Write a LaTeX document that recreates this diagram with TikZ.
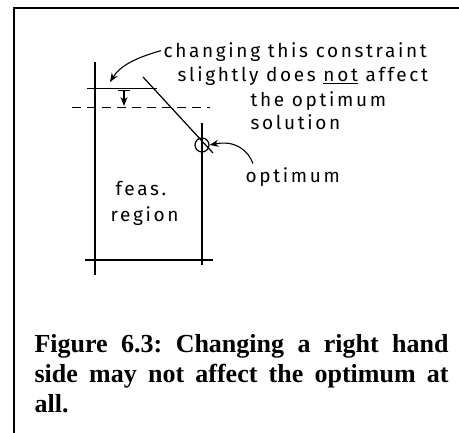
\documentclass[tikz,border=0pt]{standalone}
\usepackage{fontspec}
\setmainfont{Liberation Serif}
\newfontfamily\handfont{Fira Sans}[LetterSpace=14]
\usetikzlibrary{arrows.meta}
\frenchspacing

\tikzset{
  hand/.style={font=\handfont\fontsize{19}{21}\selectfont,inner sep=0pt,anchor=base west},
  pointer/.style={line width=1.1pt,-{Stealth[length=9pt,width=7pt]}}
}

\begin{document}
\begin{tikzpicture}[x=1pt,y=-1pt,line width=1.2pt]
  \useasboundingbox (0,0) rectangle (459,433);
  \draw[line width=2pt] (14,433) -- (14,8) -- (459,8);

  \draw (95,62) -- (95,275);
  \draw (202,123) -- (202,265);
  \draw (85,260) -- (213,260);
  \draw[line width=0.9pt] (87,88) -- (157,88);
  \draw[line width=0.9pt,dash pattern=on 9pt off 6pt] (72,107) -- (210,107);
  \draw[line width=0.9pt] (118,90) -- (130,90);
  \draw[pointer] (124,90) -- (124,106);
  \draw (143,77) -- (213,153);
  \node[circle,draw,minimum size=14pt,inner sep=0pt] (opt) at (202,145) {};

  \node[hand] (note1) at (163,58) {changing this constraint};
  \node[hand] (note2) at (177,82) {slightly does \underline{not} affect};
  \node[hand] (note3) at (250,107) {the optimum};
  \node[hand] (note4) at (250,130) {solution};
  \coordinate (tip1) at (110,82);
  \draw[pointer] ([xshift=-2pt,yshift=2pt]note1.west) .. controls (135,58) and (120,66) .. (tip1);

  \node[hand] (optlbl) at (245,183) {optimum};
  \draw[pointer] ([xshift=8pt,yshift=4pt]optlbl.north west) .. controls (248,150) and (235,140) .. (opt.east);

  \node[hand] (feas) at (115,196) {feas.};
  \node[hand] (region) at (110,222) {region};

  \node[anchor=north west,inner sep=0pt,text width=414pt,align=justify,
        font=\bfseries\fontsize{26}{30}\selectfont] (caption) at (34,334)
    {Figure 6.3: Changing a right hand\linebreak side may not affect the optimum at\linebreak all.};
\end{tikzpicture}
\end{document}
